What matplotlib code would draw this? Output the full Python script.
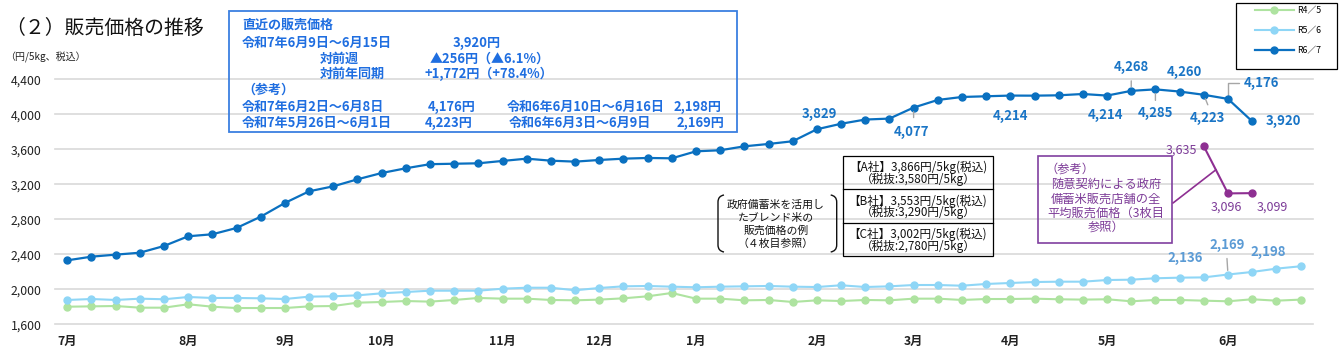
import matplotlib
matplotlib.use("Agg")
import matplotlib.pyplot as plt
from matplotlib.patches import Rectangle, PathPatch, ConnectionPatch
from matplotlib.path import Path

plt.rcParams["font.family"] = ["Noto Sans CJK JP", "DejaVu Sans"]

W, H = 1339, 352

# weekly index 0 = first week of July
r4_5 = [1801, 1805, 1809, 1790, 1790, 1829, 1801, 1786, 1786, 1786, 1805, 1809, 1847, 1855, 1866, 1859,
        1878, 1901, 1893, 1893, 1878, 1874, 1882, 1897, 1920, 1958, 1893, 1893, 1874, 1878, 1855, 1874,
        1866, 1878, 1874, 1893, 1893, 1878, 1889, 1889, 1893, 1886, 1882, 1886, 1863, 1878, 1878, 1870,
        1863, 1886, 1870, 1882]
r5_6 = [1878, 1889, 1878, 1893, 1886, 1912, 1901, 1901, 1897, 1889, 1916, 1920, 1931, 1954, 1969, 1984,
        1984, 1984, 2007, 2018, 2018, 1989, 2015, 2034, 2038, 2030, 2023, 2030, 2034, 2038, 2030, 2026,
        2046, 2026, 2034, 2049, 2049, 2041, 2061, 2072, 2083, 2087, 2087, 2106, 2110, 2126, 2133, 2136,
        2169, 2198, 2236, 2263]
r6_7 = [2331, 2373, 2396, 2418, 2495, 2606, 2629, 2701, 2830, 2987, 3120, 3177, 3257, 3329, 3383, 3430,
        3435, 3440, 3467, 3493, 3470, 3459, 3478, 3493, 3501, 3497, 3577, 3589, 3634, 3661, 3692, 3829,
        3892, 3940, 3951, 4077, 4164, 4198, 4206, 4214, 4213, 4217, 4232, 4214, 4268, 4285, 4260, 4223,
        4176, 3920]
# 随意契約 stockpile rice stores (weeks 47-49)
zuii_x = [47, 48, 49]
zuii = [3635, 3096, 3099]

month_pos = [0, 5, 9, 13, 18, 22, 26, 31, 35, 39, 43, 48]
month_labels = ["7月", "8月", "9月", "10月", "11月", "12月", "1月", "2月", "3月", "4月", "5月", "6月"]
y_ticks = [1600, 2000, 2400, 2800, 3200, 3600, 4000, 4400]

C67 = "#0a70c0"
C56 = "#8fd6f6"
C45 = "#aee3a0"
CPU = "#8e2f92"
CPT = "#7d3c98"
GRAY = "#a6a6a6"
BLUE_TXT = "#1f6ee0"

fig = plt.figure(figsize=(W / 100, H / 100), dpi=100)
ax = fig.add_axes([55.2 / W, 27.7 / H, (1312.6 - 55.2) / W, (272.7 - 27.7) / H])

l45, = ax.plot(range(len(r4_5)), r4_5, "-o", color=C45, lw=1.5, ms=5, label="R4／5", zorder=3)
l56, = ax.plot(range(len(r5_6)), r5_6, "-o", color=C56, lw=1.5, ms=5, label="R5／6", zorder=3)
l67, = ax.plot(range(len(r6_7)), r6_7, "-o", color=C67, lw=1.6, ms=5, label="R6／7", zorder=4)
ax.plot(zuii_x, zuii, "-o", color=CPU, lw=1.5, ms=5, zorder=4)

ax.set_xlim(-0.5, 51.5)
ax.set_ylim(1600, 4400)
ax.set_yticks(y_ticks)
ax.set_yticklabels([f"{v:,}" for v in y_ticks])
ax.set_xticks(month_pos)
ax.set_xticklabels(month_labels, fontweight="bold")
ax.tick_params(axis="y", length=0, pad=10, labelsize=8.8, labelcolor="#222222")
ax.tick_params(axis="x", length=0, pad=8, labelsize=8.8, labelcolor="#222222")
ax.grid(axis="y", color="#d9d9d9", lw=1.2)
ax.set_axisbelow(True)
for gl in ax.get_ygridlines():
    gl.set_clip_on(False)
for s in ax.spines.values():
    s.set_visible(False)


def label(i, series, dx, dy, color, bold=True, ha="center", lead=None, size=9.5):
    v = series[i]
    ax.annotate(f"{v:,}", (i, v), xytext=(dx, dy), textcoords="offset pixels",
                ha=ha, va="center", color=color, fontsize=size,
                fontweight="bold" if bold else "normal", zorder=6, annotation_clip=False)
    if lead is not None:
        ax.annotate("", (i, v), xytext=lead, textcoords="offset pixels",
                    arrowprops=dict(arrowstyle="-", color=GRAY, lw=1, shrinkA=0, shrinkB=3),
                    zorder=5, annotation_clip=False)


LB = "#1a75c6"
label(31, r6_7, 2, 15, LB)
label(35, r6_7, -2, -24, LB, lead=(0, -10))
label(39, r6_7, 0, -20, LB)
label(43, r6_7, -2, -19, LB)
label(44, r6_7, 0, 24, LB, lead=(0, 10))
label(45, r6_7, 0, -24, LB, lead=(0, -11))
label(46, r6_7, 5, 20, LB)
label(47, r6_7, 4, -23, LB, lead=(4, -10))
label(48, r6_7, 33, 16, LB)
ax.annotate("", (48, r6_7[48]), xytext=(11, 16), textcoords="offset pixels",
            arrowprops=dict(arrowstyle="-", color=GRAY, lw=1, shrinkA=0, shrinkB=3,
                            connectionstyle="angle,angleA=0,angleB=90,rad=0"),
            annotation_clip=False)
label(49, r6_7, 31, 0, LB)

LB2 = "#5b9bd5"
label(47, r5_6, -19, 19, LB2)
label(48, r5_6, -1, 30, LB2, lead=(-1, 16))
label(49, r5_6, 16, 20, LB2)

ax.annotate(f"{zuii[0]:,}", (zuii_x[0], zuii[0]), xytext=(-7, -4), textcoords="offset pixels",
            ha="right", va="center", color=CPT, fontsize=9, annotation_clip=False)
ax.annotate(f"{zuii[1]:,}", (zuii_x[1], zuii[1]), xytext=(-2, -14), textcoords="offset pixels",
            ha="center", va="center", color=CPT, fontsize=9, annotation_clip=False)
ax.annotate(f"{zuii[2]:,}", (zuii_x[2], zuii[2]), xytext=(20, -14), textcoords="offset pixels",
            ha="center", va="center", color=CPT, fontsize=9, annotation_clip=False)

leg = ax.legend(handles=[l45, l56, l67], loc="upper left", bbox_to_anchor=(1255 / W, 1 - 6 / H),
                bbox_transform=fig.transFigure, fontsize=6.3, frameon=False,
                handlelength=4.4, labelspacing=1.25, borderpad=0,
                handletextpad=0.4, borderaxespad=0)

# overlay in pixel coordinates for text boxes
ov = fig.add_axes([0, 0, 1, 1], zorder=10)
ov.set_xlim(0, W)
ov.set_ylim(H, 0)
ov.axis("off")
ov.add_patch(Rectangle((1236, 3), 101, 66, fill=False, edgecolor="#000000", lw=0.9))

ov.text(5, 28, "（２）販売価格の推移", fontsize=14.3, va="center", ha="left", color="#111111")
ov.text(5, 57, "（円/5kg、税込）", fontsize=7.2, va="center", ha="left", color="#222222")

ov.add_patch(Rectangle((229, 11), 508, 120.7, fill=False, edgecolor="#3a7fe0", lw=1.3))
info = [
    (242, 25, "直近の販売価格"),
    (242, 42.7, "令和7年6月9日～6月15日"), (452.7, 42.7, "3,920円"),
    (320, 59, "対前週"), (430, 59, "▲256円（▲6.1%）"),
    (320, 74, "対前年同期"), (424.3, 74, "+1,772円（+78.4%）"),
    (242, 89.3, "（参考）"),
    (242, 107, "令和7年6月2日～6月8日"), (427.7, 107, "4,176円"),
    (506.7, 107, "令和6年6月10日～6月16日"), (674, 107, "2,198円"),
    (242, 122.5, "令和7年5月26日～6月1日"), (425, 122.5, "4,223円"),
    (508.3, 122.5, "令和6年6月3日～6月9日"), (676.7, 122.5, "2,169円"),
]
for x, y, t in info:
    ov.text(x, y, t, fontsize=9.4, fontweight="bold", color=BLUE_TXT, ha="left", va="center")

# company price table
ov.add_patch(Rectangle((843.3, 156), 150, 100, fill=False, edgecolor="#000000", lw=0.9))
for yy in (189.3, 222.7):
    ov.plot([843.3, 993.3], [yy, yy], color="#000000", lw=0.9)
rows = [("【A社】3,866円/5kg(税込)", "（税抜:3,580円/5kg）"),
        ("【B社】3,553円/5kg(税込)", "（税抜:3,290円/5kg）"),
        ("【C社】3,002円/5kg(税込)", "（税抜:2,780円/5kg）")]
for k, (a, b) in enumerate(rows):
    top = 156 + k * 33.35
    ov.text(918, top + 17.5, a + "\n" + b, fontsize=8.4, ha="center", va="center",
            multialignment="center", linespacing=0.85, color="#111111")

# bracket note
note = ["政府備蓄米を活用し", "たブレンド米の", "販売価格の例", "（４枚目参照）"]
ov.text(776, 224.2, "\n".join(note), fontsize=7.8, ha="center", va="center",
        multialignment="center", linespacing=1.32, color="#111111")
for xb, d in ((718, 1), (836.7, -1)):
    verts = [(xb + 6 * d, 195), (xb, 196), (xb, 202), (xb, 245), (xb, 251), (xb + 6 * d, 252)]
    codes = [Path.MOVETO, Path.CURVE3, Path.CURVE3, Path.LINETO, Path.CURVE3, Path.CURVE3]
    ov.add_patch(PathPatch(Path(verts, codes), fill=False, edgecolor="#111111", lw=1))

# purple reference box
ov.add_patch(Rectangle((1038.3, 156), 134, 87.3, fill=False, edgecolor="#8040a0", lw=1.2))
ov.text(1046, 169.3, "（参考）", fontsize=8.8, ha="left", va="center", color=CPT)
ptxt = ["随意契約による政府", "備蓄米販売店舗の全", "平均販売価格（3枚目", "参照）"]
ov.text(1106, 206.1, "\n".join(ptxt), fontsize=8.8, ha="center", va="center",
        multialignment="center", linespacing=1.12, color=CPT)
mid = (zuii[0] + zuii[1]) / 2
fig.add_artist(ConnectionPatch(xyA=(1173, 203), coordsA=ov.transData,
                               xyB=((zuii_x[0] + zuii_x[1]) / 2, mid), coordsB=ax.transData,
                               color=CPU, lw=1.2, zorder=11))

fig.savefig("out.png", dpi=100)
